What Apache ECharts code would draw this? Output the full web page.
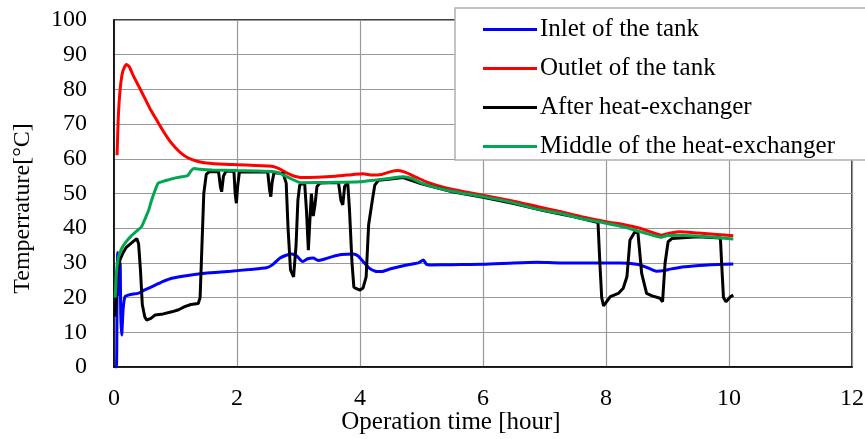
<!DOCTYPE html>
<html>
<head>
<meta charset="utf-8">
<script src="https://cdn.jsdelivr.net/npm/echarts@6/dist/echarts.min.js"></script>
<style>
  html, body { margin: 0; padding: 0; background: #fff; }
  #main { width: 865px; height: 439px; }
</style>
</head>
<body>
<div id="main"></div>
<script>
// series names (legend order)
var names = ["Inlet of the tank", "Outlet of the tank", "After heat-exchanger", "Middle of the heat-exchanger"];

// [hour, degC]
var inletData = [
  [0.02, 0], [0.04, 0], [0.05, 20], [0.06, 33], [0.08, 21], [0.1, 30], [0.11, 15], [0.125, 9.2],
  [0.15, 17], [0.18, 20.3], [0.25, 20.8], [0.4, 21.3], [0.5, 22.2], [0.67, 23.6], [0.8, 24.7],
  [0.94, 25.6], [1.2, 26.4], [1.48, 27], [1.9, 27.6], [2.2, 28.1], [2.48, 28.6], [2.58, 29.5],
  [2.7, 31.4], [2.8, 32.2], [2.89, 32.6], [2.97, 32], [3.07, 30.4], [3.15, 31.2], [3.24, 31.4],
  [3.32, 30.7], [3.4, 31], [3.55, 31.8], [3.7, 32.4], [3.89, 32.6], [3.97, 32], [4.05, 30.4],
  [4.15, 28.5], [4.25, 27.6], [4.35, 27.5], [4.5, 28.3], [4.76, 29.4], [4.95, 30], [5.03, 30.8],
  [5.08, 29.6], [5.14, 29.4], [5.5, 29.5], [6.0, 29.6], [6.5, 30], [6.88, 30.2], [7.25, 30],
  [7.8, 30], [8.23, 30], [8.5, 29.6], [8.65, 28.8], [8.82, 27.6], [8.95, 27.8], [9.04, 28.2],
  [9.2, 28.7], [9.42, 29.1], [9.7, 29.5], [10.07, 29.7]
];
var outletData = [
  [0.05, 61], [0.07, 72], [0.1, 80], [0.14, 85], [0.2, 87.2], [0.25, 86.5], [0.3, 84.5], [0.4, 81],
  [0.5, 77.5], [0.6, 74], [0.7, 71], [0.8, 68], [0.9, 65.3], [1.0, 63.2], [1.1, 61.5], [1.2, 60.3],
  [1.35, 59.3], [1.5, 58.8], [1.8, 58.4], [2.0, 58.3], [2.3, 58.1], [2.5, 57.9], [2.6, 57.7],
  [2.7, 57], [2.8, 56], [2.9, 55.2], [3.05, 54.6], [3.3, 54.7], [3.6, 55], [3.9, 55.5], [4.05, 55.7],
  [4.2, 55.3], [4.35, 55.5], [4.5, 56.3], [4.62, 56.6], [4.75, 56], [4.9, 54.8], [5.1, 53.2],
  [5.4, 51.6], [5.7, 50.5], [6.0, 49.5], [6.5, 47.8], [6.9, 46.2], [7.25, 44.8], [7.6, 43.3],
  [8.0, 41.9], [8.3, 41], [8.55, 40], [8.75, 38.8], [8.9, 38], [9.05, 38.6], [9.2, 39], [9.5, 38.6],
  [9.8, 38.2], [10.07, 37.8]
];
var afterData = [
  [0.02, 14.5], [0.04, 22], [0.06, 28], [0.1, 31], [0.15, 33], [0.2, 34.5], [0.3, 36], [0.37, 37],
  [0.4, 35.5], [0.43, 28], [0.46, 18], [0.5, 14.5], [0.53, 13.5], [0.6, 14], [0.67, 15], [0.8, 15.3],
  [0.94, 15.9], [1.05, 16.5], [1.15, 17.4], [1.25, 18], [1.37, 18.3], [1.4, 20], [1.43, 35],
  [1.46, 50], [1.5, 55.5], [1.55, 56.3], [1.7, 56.3], [1.73, 52], [1.75, 50.5], [1.78, 55],
  [1.82, 56.4], [1.95, 56.4], [1.97, 50], [1.99, 47.2], [2.01, 52], [2.04, 56.3], [2.5, 56.2],
  [2.53, 51], [2.55, 49.1], [2.57, 53], [2.6, 56], [2.75, 55.8], [2.8, 53], [2.83, 40], [2.87, 28],
  [2.92, 26], [2.96, 35], [2.99, 48], [3.02, 52.5], [3.1, 53], [3.13, 45], [3.16, 33.7], [3.19, 44],
  [3.21, 50], [3.24, 43.5], [3.27, 47], [3.3, 52], [3.35, 53], [3.65, 53.2], [3.69, 48], [3.72, 46.7],
  [3.75, 52], [3.8, 53.3], [3.83, 45], [3.87, 30], [3.9, 23], [3.95, 22.5], [4.0, 22.2], [4.05, 22.8],
  [4.1, 26], [4.14, 40.9], [4.2, 48], [4.24, 52.4], [4.3, 53.8], [4.5, 54.2], [4.7, 54.6], [5.0, 52.8],
  [5.5, 50.5], [6.0, 48.9], [6.5, 47.1], [7.0, 45], [7.5, 43.2], [7.87, 41.6], [7.9, 30], [7.93, 20],
  [7.96, 17.6], [8.07, 20.3], [8.2, 21.2], [8.28, 22.7], [8.34, 26], [8.39, 36.6], [8.47, 39],
  [8.52, 38.5], [8.58, 27], [8.66, 21.2], [8.75, 20.5], [8.88, 19.8], [8.92, 18.8], [8.96, 29.9],
  [9.01, 36.1], [9.07, 37], [9.5, 37.5], [9.86, 37.2], [9.88, 30], [9.91, 20], [9.95, 18.8],
  [10.02, 20.2], [10.07, 20.7]
];
var middleData = [
  [0.02, 20], [0.04, 27], [0.07, 31.5], [0.12, 34], [0.18, 35.7], [0.28, 37.8], [0.39, 39.5],
  [0.45, 40.5], [0.5, 42.5], [0.56, 45], [0.61, 48], [0.67, 51], [0.72, 53], [0.8, 53.5], [0.9, 54],
  [1.0, 54.5], [1.1, 54.8], [1.2, 55.2], [1.25, 56.5], [1.3, 57.2], [1.4, 57], [1.6, 56.8], [2.0, 56.6],
  [2.3, 56.5], [2.6, 56.3], [2.7, 55.8], [2.85, 54.5], [3.0, 53.3], [3.07, 53.1], [3.5, 53.2],
  [4.0, 53.4], [4.3, 54], [4.5, 54.4], [4.7, 54.8], [4.85, 54.3], [5.0, 53], [5.4, 51], [5.7, 50],
  [6.0, 49.1], [6.5, 47.3], [6.88, 45.5], [7.25, 44.3], [7.6, 42.8], [7.98, 41.5], [8.3, 40.3],
  [8.55, 39], [8.75, 38], [8.9, 37.4], [9.0, 37.9], [9.2, 38], [9.5, 37.7], [9.8, 37.3], [10.07, 36.9]
];
var colors = ["#0000ff", "#ff0000", "#000000", "#00a650"];

var serif = "Liberation Serif";
var myChart = echarts.init(document.getElementById("main"));

function lineSeries(i, data) {
  return {
    name: names[i],
    type: "line",
    data: data,
    showSymbol: false,
    symbol: "none",
    smooth: i == 2 ? false : 0.2,
    lineStyle: { color: colors[i], width: 3 },
    itemStyle: { color: colors[i] }
  };
}

var option = {
  animation: false,
  backgroundColor: "#fff",
  grid: {
    left: 114, right: 13, top: 20, bottom: 72,
    outerBoundsMode: "none",
    show: true, borderColor: "#000", borderWidth: 1.5
  },
  legend: {
    orient: "vertical",
    left: 455,
    top: 8,
    data: names,
    icon: "rect",
    itemWidth: 54,
    itemHeight: 3,
    itemGap: 14,
    padding: [9, 60, 1, 28],
    backgroundColor: "#fff",
    borderColor: "#b0b0b0",
    borderWidth: 1.5,
    textStyle: { fontFamily: serif, fontSize: 25, color: "#000", lineHeight: 24, padding: [0, 0, 0, -2] }
  },
  xAxis: {
    type: "value",
    min: 0, max: 12, interval: 2,
    name: "Operation time [hour]",
    nameLocation: "middle",
    nameGap: 43,
    nameMoveOverlap: false,
    nameTextStyle: { fontFamily: serif, fontSize: 25, color: "#000", padding: [0, 64, 0, 0] },
    axisLine: { lineStyle: { color: "#000", width: 1.5 } },
    axisTick: { show: false },
    axisLabel: { fontFamily: serif, fontSize: 24, color: "#000", margin: 20 },
    splitLine: { lineStyle: { color: "#999", width: 1.2 } }
  },
  yAxis: {
    type: "value",
    min: 0, max: 100, interval: 10,
    name: "Temperrature[°C]",
    nameLocation: "middle",
    nameGap: 79,
    nameMoveOverlap: false,
    nameTextStyle: { fontFamily: serif, fontSize: 24, color: "#000", padding: [0, 30, 0, 0] },
    axisLine: { show: true, lineStyle: { color: "#000", width: 1.5 } },
    axisTick: { show: false },
    axisLabel: { fontFamily: serif, fontSize: 24, color: "#000", margin: 27 },
    splitLine: { lineStyle: { color: "#999", width: 1.2 } }
  },
  series: [
    lineSeries(0, inletData),
    lineSeries(1, outletData),
    lineSeries(2, afterData),
    lineSeries(3, middleData)
  ]
};
myChart.setOption(option);
</script>
</body>
</html>
